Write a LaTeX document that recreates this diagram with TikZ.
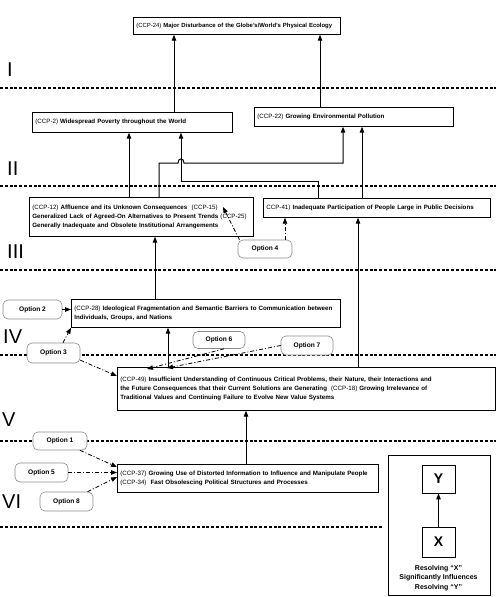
\documentclass[tikz,border=0pt]{standalone}
\usepackage{fontspec}
\setmainfont{Liberation Sans}
\usetikzlibrary{arrows.meta}
\newcommand\ccpref[1]{{\mdseries #1}}
\hyphenpenalty=10000
\begin{document}
\begin{tikzpicture}[x=1pt,y=-1pt,
  txt/.style={font=\bfseries\fontsize{6.2}{9}\selectfont},
  cbox/.style={draw, line width=0.7pt, anchor=north west, inner xsep=3pt, inner ysep=0pt, align=left, txt},
  opt/.style={draw=black!45, line width=0.6pt, fill=white, rounded corners=5pt, inner sep=0pt, font=\bfseries\fontsize{6.6}{8}\selectfont},
  arr/.style={line width=1pt, -{Triangle[length=6pt,width=4.5pt]}},
  darr/.style={line width=0.8pt, dash pattern=on 4pt off 2pt on 1pt off 2pt, -{Triangle[length=6pt,width=4.5pt]}},
  level/.style={line width=1.3pt, dash pattern=on 3pt off 1.8pt},
  roman/.style={font=\fontsize{20}{20}\selectfont, anchor=west, inner sep=0pt}
]
\fill[white] (0,0) rectangle (500,597);
\useasboundingbox (0,0) rectangle (500,597);

% level lines
\foreach \y in {88,186,270,355,441} \draw[level] (0,\y) -- (496,\y);
\draw[level] (0,527) -- (382,527);

% roman numerals
\node[roman] (r1) at (7,70) {I};
\node[roman] (r2) at (7,169) {II};
\node[roman] (r3) at (7,252) {III};
\node[roman] (r4) at (3,337) {IV};
\node[roman] (r5) at (2,420) {V};
\node[roman] (r6) at (2,502) {VI};

% problem boxes
\node[cbox, text width=201pt, minimum height=17pt, font=\bfseries\fontsize{5.95}{9}\selectfont] (ccp24) at (133,17)
  {\ccpref{(CCP-24)} Major Disturbance of the Globe's/World's Physical Ecology};
\node[cbox, text width=194pt, minimum height=20pt] (ccp2) at (32,112)
  {\ccpref{(CCP-2)} Widespread Poverty throughout the World};
\node[cbox, text width=193pt, minimum height=19pt] (ccp22) at (254,107)
  {\ccpref{(CCP-22)} Growing Environmental Pollution};
\node[cbox, text width=218pt, minimum height=39pt] (ccp12) at (29,197)
  {\ccpref{(CCP-12)} Affluence and its Unknown Consequences \ \ccpref{(CCP-15)}\\
   Generalized Lack of Agreed-On Alternatives to Present Trends \ccpref{(CCP-25)}\\
   Generally Inadequate and Obsolete Institutional Arrangements};
\node[cbox, text width=221pt, minimum height=19pt] (ccp41) at (263,198)
  {\ccpref{CCP-41)} Inadequate Participation of People Large in Public Decisions};
\node[cbox, text width=263pt, minimum height=28pt] (ccp28) at (71,299)
  {\ccpref{(CCP-28)} Ideological Fragmentation and Semantic Barriers to Communication between\\
   Individuals, Groups, and Nations};
\node[cbox, text width=372pt, minimum height=43pt] (ccp49) at (117,367)
  {\ccpref{(CCP-49)} Insufficient Understanding of Continuous Critical Problems, their Nature, their Interactions and\\
   the Future Consequences that their Current Solutions are Generating \ \ccpref{(CCP-18)} Growing Irrelevance of\\
   Traditional Values and Continuing Failure to Evolve New Value Systems};
\node[cbox, text width=255pt, minimum height=28pt] (ccp37) at (117,464)
  {\ccpref{(CCP-37)} Growing Use of Distorted Information to Influence and Manipulate People\\
   \ccpref{(CCP-34)} \ Fast Obsolescing Political Structures and Processes};

% option nodes
\node[opt, minimum width=54pt, minimum height=18pt] (opt4) at (265,249) {Option 4};
\node[opt, minimum width=59pt, minimum height=19pt] (opt2) at (32.5,309.5) {Option 2};
\node[opt, minimum width=53pt, minimum height=20pt] (opt3) at (53.5,353) {Option 3};
\node[opt, minimum width=52pt, minimum height=17pt] (opt6) at (219,340) {Option 6};
\node[opt, minimum width=52pt, minimum height=19pt] (opt7) at (307,345.5) {Option 7};
\node[opt, minimum width=54pt, minimum height=18pt] (opt1) at (60,441) {Option 1};
\node[opt, minimum width=53pt, minimum height=19pt] (opt5) at (41.5,472.5) {Option 5};
\node[opt, minimum width=53pt, minimum height=19pt] (opt8) at (66.5,501.5) {Option 8};

% helper coordinates
\coordinate (xa) at (174,0);
\coordinate (xb) at (320,0);
\coordinate (xc) at (129,0);
\coordinate (xd) at (362,0);
\coordinate (xe) at (155,0);
\coordinate (xf) at (358,0);
\coordinate (xg) at (168,0);
\coordinate (xh) at (246,0);
\coordinate (xi) at (285,0);
\coordinate (xj) at (63,0);
\coordinate (b1) at (159,163);
\coordinate (b2) at (343,163);
\coordinate (c1) at (318,181);
\coordinate (c2) at (181,181);
\coordinate (t25) at (223,207);
\coordinate (t49a) at (117,376);
\coordinate (t49b) at (147,369);
\coordinate (t49c) at (167,368);
\coordinate (t37a) at (117,467);
\coordinate (t37c) at (117,477);

% solid connectors
\draw[arr] (ccp2.north -| xa) -- (ccp24.south -| xa);
\draw[arr] (ccp22.north -| xb) -- (ccp24.south -| xb);
\draw[arr] (ccp12.north -| xc) -- (ccp2.south -| xc);
\draw[arr] (ccp12.north -| b1) -- (b1) -- (178,163) .. controls (178,157.5) and (184,157.5) .. (184,163) -- (b2) -- (ccp22.south -| b2);
\draw[arr] (ccp41.north -| c1) -- (c1) -- (c2) -- (ccp2.south -| c2);
\draw[arr] (ccp41.north -| xd) -- (ccp22.south -| xd);
\draw[arr] (ccp28.north -| xe) -- (ccp12.south -| xe);
\draw[arr] (ccp49.north -| xf) -- (ccp41.south -| xf);
\draw[arr] (ccp49.north -| xg) -- (ccp28.south -| xg);
\draw[arr] (ccp37.north -| xh) -- (ccp49.south -| xh);

% dash-dot connectors
\draw[darr] (opt4.160) -- (t25);
\draw[darr] (opt4.north -| xi) -- (ccp41.south -| xi);
\draw[darr] (opt2.east) -- (ccp28.west |- opt2.east);
\draw[darr] (opt3.north -| xj) -- (ccp28.south west);
\draw[darr] (opt3.-15) -- (t49a);
\draw[darr] (opt6.-60) -- (t49b);
\draw[darr] (opt7.west) -- (t49c);
\draw[darr] (opt1.-25) -- (t37a);
\draw[darr] (opt5.east) -- (ccp37.west |- opt5.east);
\draw[darr] (opt8.25) -- (t37c);

% legend
\node[draw, line width=0.8pt, anchor=north west, minimum width=102pt, minimum height=140pt, inner sep=0pt] (legend) at (388,455) {};
\node[draw, line width=0.8pt, minimum width=33pt, minimum height=28pt, inner sep=0pt, font=\bfseries\fontsize{14}{14}\selectfont] (ly) at (438.5,479) {Y};
\node[draw, line width=0.8pt, minimum width=33pt, minimum height=30pt, inner sep=0pt, font=\bfseries\fontsize{14}{14}\selectfont] (lx) at (438.5,542) {X};
\draw[arr] (lx.north) -- (ly.south);
\node[font=\bfseries\fontsize{7}{9.5}\selectfont, align=center, inner sep=0pt] (ltext) at (438.5,578) {Resolving “X”\\Significantly Influences\\Resolving “Y”};
\end{tikzpicture}
\end{document}
